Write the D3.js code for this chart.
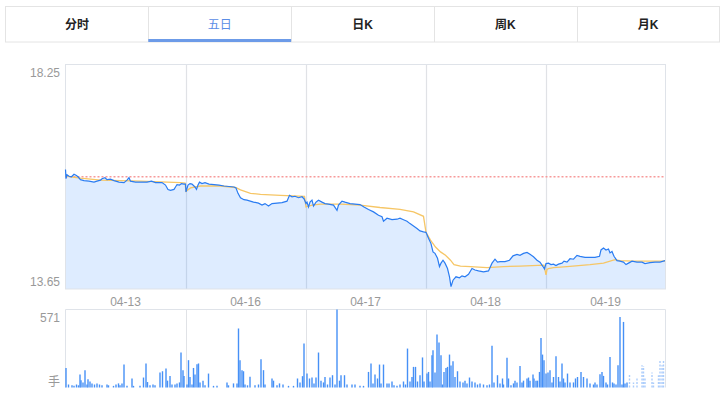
<!DOCTYPE html>
<html>
<head>
<meta charset="utf-8">
<title>五日</title>
<script src="https://d3js.org/d3.v7.min.js"></script>
<style>
  body { margin: 0; background: #fff; }
  text { font-family: Arial, "Liberation Sans", "Noto Sans CJK SC", sans-serif; }
  .lbl { fill: #999; font-size: 12px; }
  .tab { font-size: 12px; }
</style>
</head>
<body>
<svg id="main" width="721" height="395"></svg>
<script>
// tabs
var tabLabels = ["分时", "五日", "日K", "周K", "月K"];
var activeTab = 1;

// axis labels
var dayLabels = ["04-13", "04-16", "04-17", "04-18", "04-19"];
var priceTicks = [18.25, 13.65];
var prevClose = 15.95;
var volMax = 571;
var volUnit = "手";

// minute index over 5 sessions (240 per day)
var priceTime = [0, 1, 3, 7, 12, 17, 21, 25, 30, 37, 47, 57, 63, 70, 73, 79, 83, 90, 97, 107, 117, 123, 127, 130, 140, 153, 163, 172, 180, 193, 200, 205, 210, 217, 220, 223, 228, 232, 237, 240,
  241, 245, 249, 253, 259, 262, 265, 268, 273, 279, 287, 297, 307, 317, 327, 337, 341, 345, 350, 357, 363, 376, 386, 393, 399, 406, 413, 423, 433, 443, 448, 453, 459, 466, 473, 477,
  481, 483, 486, 489, 493, 496, 501, 506, 513, 519, 526, 536, 543, 546, 553, 559, 569, 579, 589, 597, 606, 616, 626, 633, 636, 643, 653, 663, 669, 676, 683, 689, 696, 703, 709, 716,
  721, 726, 731, 735, 739, 744, 748, 751, 755, 759, 764, 768, 771, 775, 781, 788, 793, 799, 806, 813, 819, 826, 836, 846, 853, 859, 864, 869, 879, 888, 895, 903, 909, 916, 923, 929, 936, 943, 949, 955, 958,
  961, 966, 971, 976, 981, 986, 993, 997, 1003, 1009, 1016, 1023, 1029, 1039, 1049, 1059, 1068, 1071, 1076, 1081, 1086, 1089, 1093, 1097, 1103, 1109, 1116, 1121, 1126, 1133, 1143, 1153, 1159, 1169, 1179, 1189, 1199];
var priceVal = [16.10, 15.91, 15.99, 15.96, 15.95, 16.00, 15.98, 15.95, 15.89, 15.87, 15.86, 15.84, 15.86, 15.88, 15.91, 15.93, 15.89, 15.90, 15.87, 15.84, 15.83, 15.88, 15.93, 15.86, 15.84, 15.84, 15.84, 15.86, 15.83, 15.83, 15.78, 15.69, 15.67, 15.69, 15.74, 15.79, 15.78, 15.81, 15.80, 15.80,
  15.64, 15.78, 15.81, 15.80, 15.74, 15.69, 15.78, 15.84, 15.81, 15.83, 15.80, 15.79, 15.78, 15.76, 15.75, 15.74, 15.72, 15.61, 15.52, 15.48, 15.47, 15.43, 15.41, 15.37, 15.40, 15.35, 15.40, 15.41, 15.42, 15.45, 15.57, 15.54, 15.55, 15.52, 15.54, 15.50,
  15.40, 15.43, 15.33, 15.43, 15.47, 15.35, 15.43, 15.47, 15.43, 15.40, 15.39, 15.37, 15.26, 15.37, 15.45, 15.43, 15.40, 15.39, 15.38, 15.33, 15.28, 15.23, 15.16, 15.13, 15.04, 15.10, 15.07, 15.08, 15.10, 15.07, 15.04, 14.99, 14.94, 14.89, 14.84, 14.82,
  14.81, 14.69, 14.58, 14.41, 14.38, 14.28, 14.11, 14.18, 14.24, 14.18, 14.07, 13.90, 13.70, 13.83, 13.90, 13.88, 13.92, 13.90, 13.95, 14.07, 14.04, 14.02, 14.00, 14.02, 14.18, 14.26, 14.20, 14.21, 14.21, 14.24, 14.33, 14.36, 14.34, 14.38, 14.40, 14.36, 14.31, 14.24, 14.20, 14.11, 14.06,
  14.17, 14.18, 14.15, 14.16, 14.13, 14.16, 14.18, 14.22, 14.20, 14.27, 14.26, 14.34, 14.32, 14.30, 14.30, 14.30, 14.32, 14.45, 14.49, 14.45, 14.47, 14.39, 14.42, 14.32, 14.23, 14.22, 14.20, 14.15, 14.18, 14.22, 14.20, 14.20, 14.17, 14.19, 14.20, 14.20, 14.23];

var avgTime = [0, 10, 30, 70, 150, 230, 239,
  241, 250, 270, 310, 340, 350, 370, 390, 430, 478,
  481, 493, 510, 550, 589, 629, 669, 696, 716,
  721, 730, 740, 750, 760, 770, 777, 790, 810, 843, 876, 909, 957,
  961, 963, 966, 976, 1003, 1049, 1076, 1099, 1109, 1136, 1199];
var avgVal = [15.97, 15.95, 15.92, 15.88, 15.86, 15.83, 15.82,
  15.65, 15.72, 15.76, 15.76, 15.73, 15.68, 15.61, 15.59, 15.57, 15.55,
  15.33, 15.37, 15.39, 15.39, 15.37, 15.32, 15.28, 15.23, 15.14,
  14.81, 14.65, 14.51, 14.41, 14.34, 14.24, 14.15, 14.12, 14.11, 14.09, 14.11, 14.12, 14.14,
  13.94, 14.05, 14.07, 14.09, 14.11, 14.15, 14.18, 14.25, 14.23, 14.22, 14.22];

var volTime = [1, 6, 13, 17, 22, 26, 29, 31, 35, 39, 43, 45, 49, 53, 58, 63, 68, 73, 83, 86, 96, 101, 106, 109, 113, 117, 123, 133, 136, 149, 156, 161, 164, 169, 175, 179, 189, 194, 201, 204, 209, 213, 219, 223, 228, 231, 235, 237,
  243, 246, 249, 253, 256, 259, 263, 266, 269, 275, 279, 286, 296, 303, 323, 326, 336, 343, 346, 349, 353, 356, 359, 364, 369, 379, 386, 391, 396, 399, 413, 416, 423, 428, 435, 446, 456, 464, 469, 474, 477,
  483, 488, 493, 497, 501, 506, 511, 516, 519, 524, 529, 534, 539, 543, 548, 551, 558, 563, 573, 579, 589, 596, 606, 611, 615, 619, 624, 628, 631, 636, 643, 647, 653, 657, 663, 669, 676, 680, 684, 689, 693, 696, 700, 704, 709, 714, 717,
  723, 726, 729, 733, 735, 739, 743, 747, 751, 754, 757, 761, 764, 768, 771, 775, 779, 784, 789, 795, 799, 803, 808, 813, 819, 824, 829, 836, 843, 848, 853, 857, 864, 869, 874, 876, 883, 886, 891, 896, 899, 903, 909, 913, 916, 923, 926, 929, 935, 937, 941, 944, 948, 951, 954, 957,
  961, 965, 969, 973, 976, 981, 986, 989, 993, 996, 999, 1004, 1009, 1016, 1020, 1024, 1031, 1036, 1043, 1049, 1056, 1059, 1063, 1069, 1073, 1076, 1081, 1084, 1089, 1094, 1097, 1101, 1105, 1109, 1113, 1116, 1119, 1123,
  1128, 1136, 1143, 1153, 1156, 1159, 1173, 1176, 1186, 1189, 1193, 1196];
var volVal = [143, 22, 16, 12, 22, 16, 95, 53, 37, 127, 22, 61, 44, 30, 22, 30, 22, 16, 22, 16, 12, 22, 30, 16, 30, 168, 12, 66, 12, 12, 73, 176, 40, 16, 22, 16, 110, 119, 139, 50, 85, 22, 22, 30, 37, 256, 127, 85,
  22, 200, 77, 22, 143, 95, 171, 176, 37, 50, 16, 102, 12, 12, 37, 16, 30, 30, 432, 200, 127, 119, 22, 16, 78, 16, 22, 207, 127, 22, 66, 50, 16, 30, 22, 12, 12, 66, 37, 83, 322,
  102, 66, 73, 30, 73, 256, 50, 37, 77, 22, 73, 90, 22, 571, 50, 90, 90, 22, 22, 22, 12, 12, 114, 176, 30, 95, 66, 168, 30, 168, 30, 30, 44, 16, 12, 22, 44, 22, 285, 44, 77, 151, 151, 44, 90, 220, 44,
  102, 114, 44, 236, 273, 110, 388, 329, 236, 22, 114, 143, 151, 241, 161, 193, 77, 119, 44, 37, 50, 30, 73, 44, 37, 22, 30, 22, 16, 22, 305, 37, 90, 30, 66, 22, 217, 66, 16, 30, 50, 37, 158, 37, 50, 66, 73, 50, 95, 66, 50, 50, 114, 363, 241, 200,
  102, 110, 127, 37, 77, 229, 77, 44, 176, 66, 37, 102, 37, 37, 66, 77, 114, 77, 66, 30, 22, 37, 22, 97, 114, 85, 37, 22, 224, 37, 30, 22, 163, 517, 22, 480, 30, 37,
  102, 37, 66, 163, 158, 77, 110, 37, 90, 200, 163, 200];
var fadedFrom = 1125;

var svg = d3.select('#main');

// ---- tab bar ----
var tx = d3.scaleBand().domain(tabLabels).range([5.5, 719.5]);
svg.append('rect')
  .attr('x', 5.5).attr('y', 6.5)
  .attr('width', 714).attr('height', 35.5)
  .attr('fill', '#fff').attr('stroke', '#e4e4e4');
svg.selectAll('.sep').data(tabLabels.slice(1)).enter()
  .append('line')
  .attr('x1', function(d) { return Math.round(tx(d)) + 0.5; })
  .attr('x2', function(d) { return Math.round(tx(d)) + 0.5; })
  .attr('y1', 6.5).attr('y2', 42)
  .attr('stroke', '#e4e4e4');
svg.append('rect')
  .attr('x', tx(tabLabels[activeTab])).attr('y', 39)
  .attr('width', tx.bandwidth()).attr('height', 3)
  .attr('fill', '#6c9be8');
svg.selectAll('.tab').data(tabLabels).enter()
  .append('text')
  .attr('class', 'tab')
  .attr('x', function(d) { return tx(d) + tx.bandwidth() / 2; })
  .attr('y', 29)
  .attr('text-anchor', 'middle')
  .attr('font-weight', function(d, i) { return i == activeTab ? 'normal' : 'bold'; })
  .attr('fill', function(d, i) { return i == activeTab ? '#5a8de6' : '#222'; })
  .text(function(d) { return d; });

// ---- price panel ----
var x = d3.scaleLinear().domain([0, 1200]).range([65.5, 665.5]);
var y = d3.scaleLinear().domain([13.65, 18.25]).range([289, 64.5]);
var yv = d3.scaleLinear().domain([0, volMax]).range([387.5, 309.5]);

var dayStarts = [240, 480, 720, 960];

svg.selectAll('.grid').data(dayStarts).enter()
  .append('line')
  .attr('x1', function(d) { return Math.round(x(d)) + 0.5; })
  .attr('x2', function(d) { return Math.round(x(d)) + 0.5; })
  .attr('y1', y(18.25)).attr('y2', y(13.65))
  .attr('stroke', '#e0e2e6').attr('stroke-width', 1.2);

var pts = priceTime.map(function(t, i) { return { t: t, v: priceVal[i] }; });
var avg = avgTime.map(function(t, i) { return { t: t, v: avgVal[i] }; });

var area = d3.area()
  .x(function(d) { return x(d.t); })
  .y0(y(13.65))
  .y1(function(d) { return y(d.v); });
svg.append('path').datum(pts)
  .attr('d', area)
  .attr('fill', 'rgb(59,140,255)').attr('fill-opacity', 0.17);

svg.append('rect')
  .attr('x', x(0)).attr('y', y(18.25))
  .attr('width', x(1200) - x(0)).attr('height', y(13.65) - y(18.25))
  .attr('fill', 'none').attr('stroke', '#dfe3e9');

svg.append('line')
  .attr('x1', x(0)).attr('x2', x(1200))
  .attr('y1', y(prevClose)).attr('y2', y(prevClose))
  .attr('stroke', '#f79a9a').attr('stroke-width', 1.5)
  .attr('stroke-dasharray', '2,2');

var line = d3.line()
  .x(function(d) { return x(d.t); })
  .y(function(d) { return y(d.v); });
svg.append('path').datum(avg)
  .attr('d', line)
  .attr('fill', 'none').attr('stroke', '#f6c666').attr('stroke-width', 1.3);
svg.append('path').datum(pts)
  .attr('d', line)
  .attr('fill', 'none').attr('stroke', '#2a7cf2').attr('stroke-width', 1.2);

svg.selectAll('.ptick').data(priceTicks).enter()
  .append('text')
  .attr('class', 'lbl')
  .attr('x', 60)
  .attr('y', function(d, i) { return i == 0 ? y(d) + 12 : y(d) - 3; })
  .attr('text-anchor', 'end')
  .text(function(d) { return d.toFixed(2); });

svg.selectAll('.day').data(dayLabels).enter()
  .append('text')
  .attr('class', 'lbl')
  .attr('x', function(d, i) { return x(i * 240 + 120); })
  .attr('y', y(13.65) + 17)
  .attr('text-anchor', 'middle')
  .text(function(d) { return d; });

// ---- volume panel ----
svg.selectAll('.vgrid').data(dayStarts).enter()
  .append('line')
  .attr('x1', function(d) { return Math.round(x(d)) + 0.5; })
  .attr('x2', function(d) { return Math.round(x(d)) + 0.5; })
  .attr('y1', yv(volMax)).attr('y2', yv(0))
  .attr('stroke', '#e0e2e6');
svg.append('path')
  .attr('d', 'M' + x(0) + ',' + yv(0) + 'V' + yv(volMax) + 'H' + x(1200) + 'V' + yv(0))
  .attr('fill', 'none').attr('stroke', '#dfe3e9');

svg.selectAll('.vbar').data(volTime).enter()
  .append('line')
  .attr('x1', function(d) { return x(d); })
  .attr('x2', function(d) { return x(d); })
  .attr('y1', yv(0))
  .attr('y2', function(d, i) { return yv(volVal[i]); })
  .attr('stroke', '#4690f6')
  .attr('stroke-width', 1.4)
  .attr('stroke-opacity', function(d) { return d >= fadedFrom ? 0.45 : 1; })
  .attr('stroke-dasharray', function(d) { return d >= fadedFrom ? '2,1.5' : null; });

svg.append('text').attr('class', 'lbl')
  .attr('x', 60).attr('y', yv(volMax) + 12)
  .attr('text-anchor', 'end').text(volMax);
svg.append('text').attr('class', 'lbl')
  .attr('x', 60).attr('y', yv(0) - 2)
  .attr('text-anchor', 'end').text(volUnit);
</script>
</body>
</html>
